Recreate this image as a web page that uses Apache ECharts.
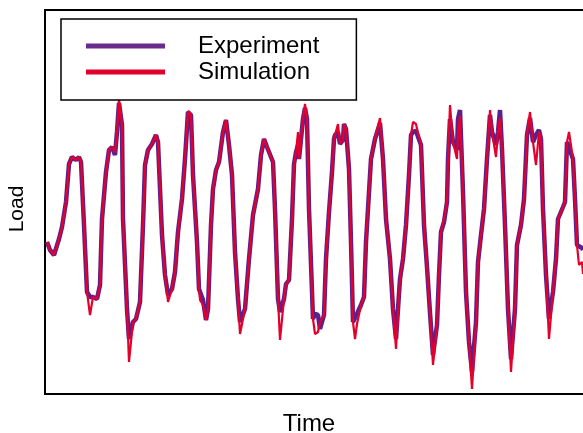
<!DOCTYPE html>
<html>
<head>
<meta charset="utf-8">
<script src="https://cdn.jsdelivr.net/npm/echarts@6/dist/echarts.min.js"></script>
<style>
html,body{margin:0;padding:0;background:#fff}
#main{width:583px;height:433px}
</style>
</head>
<body>
<div id="main"></div>
<script>
// time (arbitrary units) and load values
var time = [2,5,9,11,14,17,21,24,27,29,31,34,36,39,42,45,48,52,55,57,61,64,67,70,72,74,77,78,82,84,88,91,95,98,100,103,107,111,113,117,120,123,127,130,133,137,140,143,146,148,152,154,155,158,161,163,166,168,171,174,178,181,184,187,190,193,195,200,204,208,213,216,219,222,226,228,230,233,235,239,241,244,247,249,251,253,254,256,258,260,262,264,268,270,273,275,279,281,284,287,289,290,293,295,298,299,301,304,306,308,310,311,312,316,319,321,324,326,330,335,338,341,345,348,351,355,358,361,364,366,368,371,373,376,379,382,385,388,392,394,396,399,402,403,405,408,412,413,415,418,421,424,427,431,433,436,439,442,445,447,451,453,455,457,460,463,466,470,472,476,479,482,485,488,491,494,496,498,501,504,508,511,513,518,520,522,524,528,530,532,534,537,538];
var simulation = [152,144,139,138,155,167,192,230,237,239,234,237,232,169,102,79,97,95,109,175,222,244,247,242,262,295,269,175,85,32,72,75,92,169,229,244,250,259,252,159,119,92,105,122,162,195,235,283,279,219,152,105,94,89,74,85,169,205,224,232,262,274,249,219,142,95,60,85,135,179,205,239,255,247,237,232,185,95,54,95,110,114,175,230,242,262,235,234,275,290,275,185,75,60,62,72,79,135,182,222,255,259,270,250,254,270,265,225,152,72,55,54,70,89,97,152,202,235,255,276,235,175,135,85,45,115,135,169,219,259,272,270,261,249,169,127,81,29,69,119,162,175,192,235,289,252,235,260,278,202,102,52,5,72,132,159,185,235,284,262,237,262,276,245,169,85,22,85,149,169,195,259,282,252,229,262,255,185,119,55,102,135,175,187,192,252,262,235,195,149,129,132,120];
var experiment = [152,144,139,138,155,167,192,230,237,236,234,237,232,169,102,97,97,95,109,175,222,244,247,239,262,291,269,175,85,55,72,75,92,169,229,244,250,259,252,159,119,99,105,122,162,195,235,282,279,219,152,105,104,94,74,85,169,205,224,232,262,274,249,219,142,95,72,85,135,179,205,239,255,247,237,232,185,95,82,95,110,114,175,230,242,249,235,234,275,286,275,185,75,80,79,65,79,135,182,222,255,259,262,250,254,270,265,225,152,72,72,78,80,89,97,152,202,235,255,271,235,175,135,85,55,115,135,169,219,259,262,263,261,249,169,127,81,39,69,119,162,172,192,235,275,252,244,275,284,202,102,52,22,72,132,159,185,235,279,262,249,262,284,245,169,85,35,85,149,169,195,259,276,252,259,264,255,185,119,75,102,135,175,187,192,252,254,235,195,149,149,146,144];

function pairs(vals){
    var out=[];
    for(var i=0;i<time.length;i++){
        out.push([time[i],vals[i]]);
    }
    return out;
}

var chart=echarts.init(document.getElementById('main'),null,{renderer:'canvas'});
var font='Liberation Sans, Arial, sans-serif';
chart.setOption({
    animation:false,
    backgroundColor:'#fff',
    grid:{left:45,right:-3,top:10,bottom:39,outerBoundsMode:'none',containLabel:false,
        show:true,borderColor:'#000',borderWidth:2,backgroundColor:'transparent'},
    legend:{
        orient:'vertical',left:61,top:19,
        padding:[15,37,16,25],itemGap:2,itemWidth:79,itemHeight:5,icon:'rect',
        borderColor:'#000',borderWidth:1.5,backgroundColor:'#fff',
        textStyle:{fontSize:24,fontFamily:font,color:'#000',lineHeight:24,padding:[0,0,0,28]},
        data:['Experiment','Simulation']
    },
    xAxis:{
        type:'value',min:0,max:541,
        name:'Time',nameLocation:'middle',nameGap:18,
        nameTextStyle:{fontSize:24,fontFamily:font,color:'#000',padding:[0,13,0,0]},
        axisLine:{show:false},axisTick:{show:false},axisLabel:{show:false},splitLine:{show:false}
    },
    yAxis:{
        type:'value',min:0,max:384,
        name:'Load',nameLocation:'middle',nameGap:17,nameRotate:90,
        nameTextStyle:{fontSize:21,fontFamily:font,color:'#000',padding:[0,14,0,0]},
        axisLine:{show:false},axisTick:{show:false},axisLabel:{show:false},splitLine:{show:false}
    },
    series:[
        {name:'Experiment',type:'line',data:pairs(experiment),showSymbol:false,symbol:'none',
            lineStyle:{color:'#5b1f8e',width:4.5},itemStyle:{color:'#6a2a8e'}},
        {name:'Simulation',type:'line',data:pairs(simulation),showSymbol:false,symbol:'none',
            lineStyle:{color:'#e2002c',width:2.2},itemStyle:{color:'#e2002c'}}
    ]
});
</script>
</body>
</html>
